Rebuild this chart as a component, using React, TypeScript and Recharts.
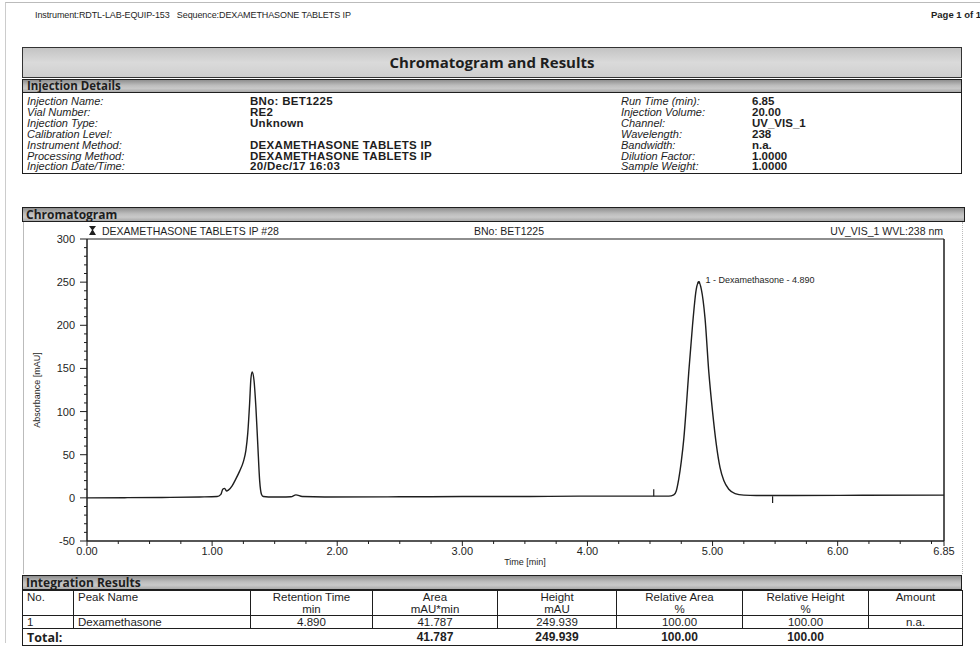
import React from 'react'
import { LineChart, Line, XAxis, YAxis, ReferenceLine, ReferenceDot } from 'recharts'

// chromatogram trace (time in min, absorbance in mAU)
const times = [
  0, 0.3, 0.6, 0.9, 1.04, 1.07, 1.085, 1.1, 1.115, 1.13, 1.16, 1.19, 1.22, 1.25, 1.27,
  1.285, 1.3, 1.31, 1.32, 1.335, 1.35, 1.365, 1.38, 1.395, 1.41, 1.45, 1.55, 1.63, 1.67,
  1.72, 1.9, 2.5, 3.0, 3.5, 4.0, 4.5, 4.65, 4.69, 4.71, 4.73, 4.75, 4.77, 4.79, 4.81,
  4.84, 4.87, 4.89, 4.91, 4.94, 4.97, 5.0, 5.03, 5.06, 5.09, 5.13, 5.18, 5.25, 5.35,
  5.6, 6.2, 6.85,
]
const absorbance = [
  0, 0.2, 0.5, 1.0, 1.5, 4, 10, 11, 8, 9, 14, 22, 31, 42, 55,
  75, 110, 138, 146, 136, 105, 62, 20, 4, 1.5, 1.0, 1.0, 1.3, 3.5,
  1.5, 1.0, 1.2, 1.5, 1.6, 2.0, 2.0, 2.0, 3.5, 8, 22, 42, 68, 105, 146,
  200, 242, 249.939, 242, 208, 146, 100, 62, 35, 20, 10, 5, 3.2, 2.8,
  2.8, 3.0, 3.2,
]

const xTicks = [
  0, 0.25, 0.5, 0.75, 1, 1.25, 1.5, 1.75, 2, 2.25, 2.5, 2.75, 3, 3.25, 3.5, 3.75,
  4, 4.25, 4.5, 4.75, 5, 5.25, 5.5, 5.75, 6, 6.25, 6.5, 6.75, 6.85,
]
const xMajorTicks = [0, 1, 2, 3, 4, 5, 6, 6.85]
const xTickLabels = ['0.00', '1.00', '2.00', '3.00', '4.00', '5.00', '6.00', '6.85']

const yTicks = [
  -50, -40, -30, -20, -10, 0, 10, 20, 30, 40, 50, 60, 70, 80, 90, 100, 110, 120, 130, 140,
  150, 160, 170, 180, 190, 200, 210, 220, 230, 240, 250, 260, 270, 280, 290, 300,
]
const yMajorTicks = [-50, 0, 50, 100, 150, 200, 250, 300]
const yTickLabels = ['-50', '0', '50', '100', '150', '200', '250', '300']

// event marks on the baseline
const markerTimes = [4.53, 5.48]
const markerTops = [10, -6]
const markerBase = 2

const peakTime = 4.89
const peakHeight = 249.939
const peakLabel = '1 - Dexamethasone - 4.890'

const leftLabels = [
  'Injection Name:', 'Vial Number:', 'Injection Type:', 'Calibration Level:',
  'Instrument Method:', 'Processing Method:', 'Injection Date/Time:',
]
const leftValues = [
  'BNo: BET1225', 'RE2', 'Unknown', '', 'DEXAMETHASONE TABLETS IP',
  'DEXAMETHASONE TABLETS IP', '20/Dec/17 16:03',
]
const rightLabels = [
  'Run Time (min):', 'Injection Volume:', 'Channel:', 'Wavelength:',
  'Bandwidth:', 'Dilution Factor:', 'Sample Weight:',
]
const rightValues = ['6.85', '20.00', 'UV_VIS_1', '238', 'n.a.', '1.0000', '1.0000']

const tableHeaders = ['No.', 'Peak Name', 'Retention Time', 'Area', 'Height', 'Relative Area', 'Relative Height', 'Amount']
const tableUnits = ['', '', 'min', 'mAU*min', 'mAU', '%', '%', '']
const peakRow = ['1', 'Dexamethasone', '4.890', '41.787', '249.939', '100.00', '100.00', 'n.a.']
const totalRow = ['Total:', '', '', '41.787', '249.939', '100.00', '100.00', '']

const colWidths = [51, 177, 122, 125, 119, 126, 126, 94]

const data = times.map((t, i) => ({ t, v: absorbance[i] }))

const ARIAL = '"Liberation Sans", Arial, sans-serif'
const CALIBRI = '"Open Sans", "Noto Sans", sans-serif'
const INK = '#1e1e1e'
const barBg = 'linear-gradient(to bottom, #8f8f8f 0%, #bdbdbd 45%, #c9c9c9 70%, #a9a9a9 100%)'

const YTick = (props: any) => {
  const { x, y, payload } = props
  const i = yMajorTicks.indexOf(payload.value)
  if (i < 0) return <line x1={x - 3} x2={x} y1={y} y2={y} stroke={INK} />
  return (
    <g>
      <line x1={x - 7} x2={x} y1={y} y2={y} stroke={INK} />
      <text x={x - 12} y={y} dy={4} textAnchor="end" fontSize={11} fontFamily={ARIAL} fill={INK}>
        {yTickLabels[i]}
      </text>
    </g>
  )
}

const XTick = (props: any) => {
  const { x, y, payload } = props
  const i = xMajorTicks.indexOf(payload.value)
  if (i < 0) return <line x1={x} x2={x} y1={y} y2={y + 3} stroke={INK} />
  return (
    <g>
      <line x1={x} x2={x} y1={y} y2={y + 5} stroke={INK} />
      <text x={x} y={y + 14} textAnchor="middle" fontSize={11} fontFamily={ARIAL} fill={INK}>
        {xTickLabels[i]}
      </text>
    </g>
  )
}

const PeakLabel = (props: any) => {
  const { viewBox } = props
  return (
    <text x={viewBox.x + 8} y={viewBox.y + 2} fontSize={9} fontFamily={ARIAL} fill={INK}>
      {peakLabel}
    </text>
  )
}

const abs = (left: number, top: number, extra: React.CSSProperties = {}): React.CSSProperties => ({
  position: 'absolute', left, top, whiteSpace: 'nowrap', ...extra,
})

function Chromatogram() {
  return (
    <div style={abs(0, 225)}>
      <LineChart width={980} height={345} data={data} margin={{ top: 14, right: 36, bottom: 0, left: 0 }}>
        <XAxis
          dataKey="t"
          type="number"
          domain={[0, 6.85]}
          ticks={xTicks}
          interval={0}
          tick={<XTick />}
          tickLine={false}
          tickSize={0}
          tickMargin={0}
          height={29}
          axisLine={{ stroke: INK, strokeWidth: 1.5 }}
        />
        <YAxis
          type="number"
          domain={[-50, 300]}
          ticks={yTicks}
          interval={0}
          tick={<YTick />}
          tickLine={false}
          tickSize={0}
          tickMargin={0}
          width={87}
          axisLine={{ stroke: INK, strokeWidth: 1.5 }}
        />
        <ReferenceLine y={300} stroke={INK} strokeWidth={1.2} />
        <ReferenceLine x={6.85} stroke={INK} strokeWidth={1.5} />
        {markerTimes.map((m, i) => (
          <ReferenceLine
            key={m}
            segment={[{ x: m, y: markerBase }, { x: m, y: markerTops[i] }]}
            stroke={INK}
            strokeWidth={1.2}
          />
        ))}
        <Line
          type="monotone"
          dataKey="v"
          stroke={INK}
          strokeWidth={1.4}
          dot={false}
          isAnimationActive={false}
        />
        <ReferenceDot
          x={peakTime}
          y={peakHeight}
          r={1.3}
          fill={INK}
          stroke="none"
          label={<PeakLabel />}
        />
      </LineChart>
    </div>
  )
}

export default function App() {
  const cell: React.CSSProperties = {
    borderRight: `1px solid ${INK}`,
    padding: '0 4px',
    fontFamily: ARIAL,
    fontSize: 11.5,
    color: INK,
    overflow: 'hidden',
    whiteSpace: 'nowrap',
  }
  const rowTop = (i: number) => 96 + i * 10.9
  return (
    <div style={{ position: 'absolute', left: 0, top: 0, width: 980, height: 649, background: '#fff', overflow: 'hidden', fontFamily: ARIAL, color: INK }}>
      {/* page frame */}
      <div style={abs(5, 2, { width: 975, height: 640, borderTop: '1px solid #bbb', borderLeft: '1px solid #ccc' })} />
      <div style={abs(35, 10, { fontSize: 9, fontFamily: '"Liberation Sans Narrow", "Liberation Sans", Arial', letterSpacing: -0.1 })}>
        Instrument:RDTL-LAB-EQUIP-153&nbsp;&nbsp;&nbsp;Sequence:DEXAMETHASONE TABLETS IP
      </div>
      <div style={abs(931, 9, { fontSize: 9.5, fontWeight: 700 })}>Page 1 of 1</div>

      {/* title box */}
      <div
        style={abs(22, 47, {
          width: 938, height: 29, border: `1.5px solid #333`,
          background: 'linear-gradient(to bottom, #c4c4c4, #dadada 50%, #cfcfcf)',
          textAlign: 'center', fontFamily: CALIBRI, fontWeight: 700, fontSize: 15, lineHeight: '29px',
        })}
      >
        Chromatogram and Results
      </div>

      {/* injection details */}
      <div style={abs(22, 79, { width: 938, height: 93, border: `1px solid ${INK}` })} />
      <div style={abs(22, 79, { width: 934, height: 12, background: barBg, border: `1px solid ${INK}`, fontFamily: CALIBRI, fontWeight: 700, fontSize: 11.5, lineHeight: '12px', paddingLeft: 4 })}>
        Injection Details
      </div>
      {leftLabels.map((l, i) => (
        <div key={l} style={abs(27, rowTop(i), { fontSize: 11, fontStyle: 'italic', lineHeight: '11px' })}>{l}</div>
      ))}
      {leftValues.map((v, i) => (
        <div key={i} style={abs(250, rowTop(i), { fontSize: 11.5, fontWeight: 700, lineHeight: '11px', letterSpacing: 0.3 })}>{v}</div>
      ))}
      {rightLabels.map((l, i) => (
        <div key={l} style={abs(621, rowTop(i), { fontSize: 11, fontStyle: 'italic', lineHeight: '11px' })}>{l}</div>
      ))}
      {rightValues.map((v, i) => (
        <div key={i} style={abs(752, rowTop(i), { fontSize: 11.5, fontWeight: 700, lineHeight: '11px' })}>{v}</div>
      ))}

      {/* chromatogram section */}
      <div style={abs(22, 207, { width: 938, height: 13, background: barBg, border: `1.5px solid ${INK}`, fontFamily: CALIBRI, fontWeight: 700, fontSize: 12, lineHeight: '13px', paddingLeft: 3 })}>
        Chromatogram
      </div>
      <div style={abs(23, 222, { width: 938, height: 352, borderLeft: '1px solid #bbb', borderRight: '1px dotted #bbb' })} />
      <Chromatogram />
      <div style={abs(89, 225, { fontSize: 10.5, lineHeight: '12px' })}>
        <svg width={8} height={10} style={{ verticalAlign: 'top', marginRight: 5, marginTop: 1 }}>
          <path d="M0 0 H7 L4 4 L7 9 H0 L3 4 Z" fill={INK} />
        </svg>
        DEXAMETHASONE TABLETS IP #28
      </div>
      <div style={abs(474, 225, { fontSize: 10.5, lineHeight: '12px' })}>BNo: BET1225</div>
      <div style={abs(943, 225, { fontSize: 10.5, lineHeight: '12px', transform: 'translateX(-100%)' })}>UV_VIS_1 WVL:238 nm</div>
      <div style={abs(37, 390, { fontSize: 9, transform: 'translate(-50%, -50%) rotate(-90deg)' })}>Absorbance [mAU]</div>
      <div style={abs(525, 557, { fontSize: 9, transform: 'translateX(-50%)' })}>Time [min]</div>

      {/* integration results */}
      <div style={abs(22, 575, { width: 935, height: 13, background: barBg, border: `1.5px solid ${INK}`, fontFamily: CALIBRI, fontWeight: 700, fontSize: 12, lineHeight: '13px', paddingLeft: 3 })}>
        Integration Results
      </div>
      <table style={{ ...abs(22, 590), borderCollapse: 'collapse', tableLayout: 'fixed', width: 940, border: `1.5px solid ${INK}` }}>
        <colgroup>
          {colWidths.map((w, i) => <col key={i} style={{ width: w }} />)}
        </colgroup>
        <tbody>
          <tr style={{ height: 25, borderBottom: `1px solid ${INK}` }}>
            {tableHeaders.map((h, i) => (
              <td key={h} style={{ ...cell, textAlign: i < 2 ? 'left' : 'center', verticalAlign: 'top', padding: '0 4px' }}>
                <div style={{ lineHeight: '12px' }}>{h}</div>
                {tableUnits[i] ? <div style={{ lineHeight: '12px' }}>{tableUnits[i]}</div> : null}
              </td>
            ))}
          </tr>
          <tr style={{ height: 13, borderBottom: `1.5px solid ${INK}` }}>
            {peakRow.map((v, i) => (
              <td key={i} style={{ ...cell, textAlign: i < 2 ? 'left' : 'center', lineHeight: '12px' }}>{v}</td>
            ))}
          </tr>
          <tr style={{ height: 17 }}>
            {totalRow.map((v, i) => (
              <td
                key={i}
                style={{
                  ...cell, borderRight: 'none', textAlign: i < 2 ? 'left' : 'center', lineHeight: '15px',
                  fontWeight: 700, fontFamily: i === 0 ? CALIBRI : ARIAL, fontSize: i === 0 ? 12.5 : 12,
                }}
              >
                {v}
              </td>
            ))}
          </tr>
        </tbody>
      </table>
    </div>
  )
}
